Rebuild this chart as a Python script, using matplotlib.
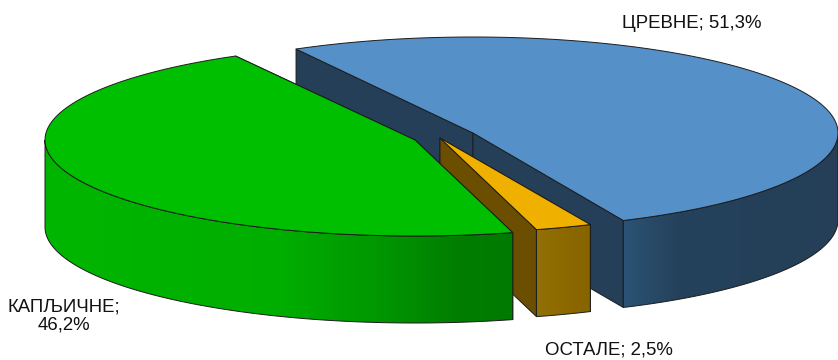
#!/usr/bin/env python3
import matplotlib
matplotlib.use("Agg")
import matplotlib.pyplot as plt
from matplotlib.colors import LinearSegmentedColormap
from matplotlib.patches import Polygon
import numpy as np

plt.rcParams["font.family"] = ["Liberation Sans", "DejaVu Sans"]

# values as printed on the chart, clockwise from the start angle
names = ["ЦРЕВНЕ", "ОСТАЛЕ", "КАПЉИЧНЕ"]
shares = [51.3, 2.5, 46.2]
label_texts = ["ЦРЕВНЕ; 51,3%", "ОСТАЛЕ; 2,5%", "КАПЉИЧНЕ;\n46,2%"]

START = 119.0
DEPTH = 87
EDGE = "#1c1c1c"

# per slice look: apex, ellipse radii, colours
style = {
    "ЦРЕВНЕ": dict(apex=(473, 133), a=365, b=96, top="#5590C8", wall="#243F57",
                   grad=[(0, "#2C5375"), (0.25, "#25425C"), (1, "#243F57")]),
    "ОСТАЛЕ": dict(apex=(440, 138), a=365, b=95, top="#F0B000", wall="#6B4E00",
                   grad=[(0, "#94700A"), (0.4, "#8E6A00"), (1, "#886400")]),
    "КАПЉИЧНЕ": dict(apex=(415, 140), a=370, b=96, top="#00BE00", wall="#00A000",
                     grad=[(0, "#00B600"), (0.5, "#00AE00"), (0.72, "#009600"),
                           (0.88, "#007E00"), (1, "#007A00")]),
}

fig = plt.figure(figsize=(8.38, 3.6), dpi=100)
ax = fig.add_axes([0, 0, 1, 1])
ax.axis("off")


def rim(s, t):
    t = np.radians(t)
    return np.column_stack([s["apex"][0] + s["a"] * np.cos(t),
                            s["apex"][1] - s["b"] * np.sin(t)])


def wall(p0, p1, color, z):
    pts = [p0, p1, (p1[0], p1[1] + DEPTH), (p0[0], p0[1] + DEPTH)]
    ax.add_patch(Polygon(pts, closed=True, fc=color, ec=EDGE, lw=0.7, joinstyle="round", zorder=z))


def outer(s, t0, t1, z):
    # outer rim face, only the part that looks towards the viewer
    arc = rim(s, np.linspace(t0, t1, 200))
    pts = np.vstack([arc, (arc + [0, DEPTH])[::-1]])
    x0, x1 = pts[:, 0].min(), pts[:, 0].max()
    cmap = LinearSegmentedColormap.from_list("g", s["grad"])
    im = ax.imshow(np.linspace(0, 1, 256)[None, :], cmap=cmap, aspect="auto",
                   extent=(x0, x1, pts[:, 1].max(), pts[:, 1].min()), zorder=z)
    poly = Polygon(pts, closed=True, fc="none", ec=EDGE, lw=0.7, zorder=z + 0.1)
    ax.add_patch(poly)
    im.set_clip_path(poly)


angle = START
z = 1
for name, share in zip(names, shares):
    s = style[name]
    end = angle - share * 3.6
    apex = np.array(s["apex"], float)
    first, last = rim(s, [angle, end])
    # side walls first, the rim face and the top over them
    wall(apex, first, s["wall"], z)
    wall(apex, last, s["wall"], z + 1)
    if name == "КАПЉИЧНЕ":
        outer(s, angle, -180, z + 2)
    elif name == "ЦРЕВНЕ":
        outer(s, end, 0, z + 2)
    else:
        outer(s, end, angle, z + 2)
    arc = rim(s, np.linspace(angle, end, 300))
    ax.add_patch(Polygon(np.vstack([apex, arc]), closed=True, fc=s["top"], ec=EDGE, lw=0.7,
                         joinstyle="round", zorder=z + 3))
    angle = end
    z += 10

ax.text(692, 23, label_texts[0], ha="center", va="center", fontsize=13.4, color="#111111", zorder=50)
ax.text(609, 350, label_texts[1], ha="center", va="center", fontsize=13.4, color="#111111", zorder=50)
ax.text(64, 316, label_texts[2], ha="center", va="center", ma="center", fontsize=13.4, color="#111111",
        linespacing=1.15, zorder=50)

ax.set_xlim(0, 838)
ax.set_ylim(360, 0)
fig.savefig("out.png", dpi=100, facecolor="white")
